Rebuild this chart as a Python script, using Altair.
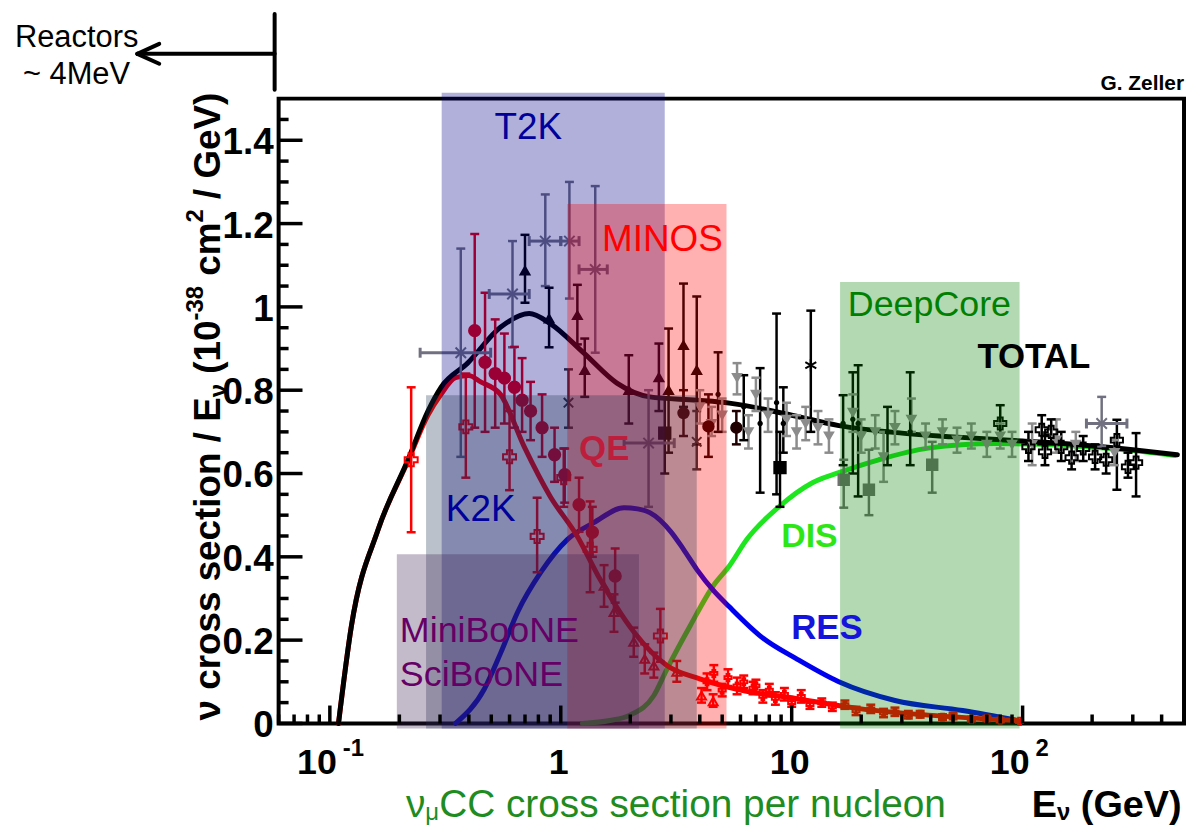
import altair as alt
import pandas as pd

# ---------------------------------------------------------------- data
# model curves (E in GeV, cross section / E in 1e-38 cm^2/GeV)
total_E = [0.109, 0.124, 0.162, 0.218, 0.266, 0.303, 0.395, 0.548, 0.73, 0.90, 1.26, 1.75, 2.43,
           3.88, 5.37, 10, 16, 30, 50, 100, 150, 300, 468]
total_y = [0, 0.234, 0.466, 0.633, 0.75, 0.807, 0.865, 0.951, 0.984, 0.96, 0.889, 0.817, 0.784,
           0.776, 0.769, 0.74, 0.715, 0.697, 0.688, 0.678, 0.672, 0.657, 0.645]

qe_E = [0.109, 0.124, 0.162, 0.218, 0.266, 0.303, 0.35, 0.40, 0.45, 0.548, 0.695, 0.90, 1.18, 1.48,
        2.07, 2.88, 4.0, 6.0, 10.4, 20, 39, 95]
qe_y = [0, 0.234, 0.466, 0.63, 0.74, 0.79, 0.83, 0.835, 0.82, 0.79, 0.664, 0.545, 0.449, 0.346,
        0.22, 0.139, 0.107, 0.08, 0.06, 0.035, 0.02, 0.007]

res_E = [0.35, 0.468, 0.55, 0.65, 0.82, 1.07, 1.39, 1.88, 2.15, 2.43, 3.0, 3.4, 3.88, 4.57, 5.37,
         7.5, 10.5, 16, 28, 55, 95]
res_y = [0, 0.084, 0.17, 0.267, 0.363, 0.442, 0.482, 0.518, 0.515, 0.506, 0.46, 0.418, 0.37, 0.32,
         0.28, 0.205, 0.155, 0.10, 0.055, 0.031, 0.007]

dis_E = [1.24, 1.63, 1.99, 2.53, 2.88, 3.63, 4.57, 5.37, 6.4, 8.8, 12.3, 16, 23.8, 39, 76, 147, 300, 455]
dis_y = [0, 0.007, 0.02, 0.067, 0.13, 0.234, 0.33, 0.378, 0.442, 0.52, 0.578, 0.602, 0.633, 0.661,
         0.672, 0.668, 0.655, 0.643]

# measurements: (E, value, low end, high end)
grey_tri = [(4.0, 0.76, 0.72, 0.80), (4.5, 0.72, 0.69, 0.76), (5.0, 0.74, 0.70, 0.78),
            (5.8, 0.83, 0.79, 0.865), (6.5, 0.70, 0.66, 0.74), (7.0, 0.79, 0.75, 0.83),
            (7.9, 0.74, 0.70, 0.78), (9.5, 0.73, 0.69, 0.77), (10.5, 0.70, 0.66, 0.74),
            (11.5, 0.72, 0.68, 0.76), (13, 0.71, 0.67, 0.75), (14.5, 0.69, 0.65, 0.73),
            (18.4, 0.747, 0.70, 0.79), (20, 0.69, 0.65, 0.73), (23, 0.70, 0.66, 0.74),
            (25, 0.64, 0.58, 0.70), (28, 0.71, 0.67, 0.75), (33, 0.73, 0.70, 0.78),
            (38, 0.69, 0.66, 0.72), (45, 0.70, 0.67, 0.73), (52, 0.68, 0.65, 0.71),
            (60, 0.69, 0.66, 0.72), (70, 0.67, 0.64, 0.70), (80, 0.69, 0.66, 0.72),
            (90, 0.67, 0.64, 0.70), (110, 0.67, 0.62, 0.72), (140, 0.68, 0.65, 0.73),
            (170, 0.67, 0.63, 0.70), (250, 0.65, 0.62, 0.68)]
grey_sq = [(16.8, 0.585, 0.518, 0.633), (21.6, 0.561, 0.50, 0.657), (40.6, 0.621, 0.554, 0.676)]
# (E, value, low, high, E low, E high)
grey_x = [(0.369, 0.89, 0.64, 1.14, 0.246, 0.497), (0.618, 1.031, 0.903, 1.158, 0.49, 0.73),
          (0.857, 1.158, 1.05, 1.27, 0.73, 1.0), (1.09, 1.158, 1.02, 1.30, 1.0, 1.2),
          (1.41, 1.09, 0.89, 1.29, 1.2, 1.59), (2.40, 0.673, 0.52, 0.80, 1.88, 3.1),
          (220, 0.72, 0.665, 0.784, 189, 283)]
red_cross = [(0.225, 0.633, 0.459, 0.807), (0.388, 0.712, 0.59, 0.84), (0.60, 0.64, 0.56, 0.75),
             (0.79, 0.449, 0.363, 0.542), (1.03, 0.59, 0.52, 0.66), (1.34, 0.418, 0.315, 0.533),
             (2.7, 0.21, 0.148, 0.275)]
red_circle = [(0.424, 0.943, 0.71, 1.175), (0.47, 0.867, 0.70, 1.034), (0.52, 0.84, 0.71, 0.97),
              (0.57, 0.829, 0.72, 0.936), (0.63, 0.807, 0.71, 0.904), (0.68, 0.776, 0.70, 0.877),
              (0.74, 0.75, 0.68, 0.82), (0.83, 0.71, 0.64, 0.79), (0.94, 0.645, 0.58, 0.71),
              (1.04, 0.597, 0.53, 0.66), (1.2, 0.525, 0.46, 0.59), (1.37, 0.459, 0.40, 0.52),
              (1.72, 0.354, 0.29, 0.42)]
red_tri = [(1.54, 0.33, 0.28, 0.38), (1.70, 0.267, 0.22, 0.31), (2.07, 0.196, 0.16, 0.23),
           (2.31, 0.155, 0.12, 0.19), (2.53, 0.139, 0.11, 0.17), (3.18, 0.124, 0.10, 0.15),
           (4.07, 0.067, 0.05, 0.085), (4.57, 0.053, 0.04, 0.07)]
red_small = [(4.3, 0.10, 0.08, 0.12), (4.6, 0.12, 0.10, 0.14), (5.0, 0.08, 0.065, 0.095),
             (5.3, 0.11, 0.09, 0.13), (5.8, 0.09, 0.07, 0.11), (6.2, 0.10, 0.085, 0.115),
             (6.8, 0.085, 0.07, 0.10), (7.0, 0.09, 0.075, 0.105), (7.5, 0.065, 0.05, 0.08),
             (8.0, 0.08, 0.065, 0.095), (8.5, 0.06, 0.045, 0.075), (9.3, 0.07, 0.055, 0.085),
             (10, 0.05, 0.04, 0.06), (11, 0.065, 0.05, 0.08), (12, 0.045, 0.035, 0.055),
             (13.5, 0.05, 0.04, 0.06), (15, 0.04, 0.03, 0.05), (17, 0.045, 0.035, 0.055),
             (19, 0.03, 0.02, 0.04), (22, 0.035, 0.025, 0.045), (25, 0.025, 0.015, 0.035),
             (28, 0.028, 0.018, 0.038), (32, 0.02, 0.012, 0.03), (36, 0.022, 0.014, 0.03),
             (45, 0.015, 0.008, 0.022), (50, 0.018, 0.01, 0.026), (60, 0.01, 0.005, 0.016),
             (70, 0.012, 0.006, 0.018), (80, 0.008, 0.003, 0.013), (97, 0.005, 0.002, 0.008)]
black_tri = [(0.70, 1.087, 1.01, 1.173), (0.89, 0.972, 0.903, 1.046), (1.18, 0.98, 0.91, 1.053),
             (1.27, 0.848, 0.784, 0.924), (1.97, 0.80, 0.72, 0.884), (2.66, 0.831, 0.75, 0.912),
             (2.93, 0.80, 0.65, 0.948), (3.40, 0.908, 0.76, 1.056), (3.88, 0.848, 0.67, 1.025)]
dark_x = [(1.08, 0.77, 0.71, 0.85), (3.88, 0.676, 0.61, 0.75)]
black_dot = [(3.4, 0.745, 0.69, 0.80), (4.36, 0.713, 0.64, 0.79), (5.76, 0.71, 0.67, 0.75)]
black_sq = [(2.82, 0.697, 0.60, 0.78), (8.9, 0.614, 0.52, 0.70)]
black_bar = [(4.8, 0.79, 0.70, 0.891), (6.2, 0.76, 0.68, 0.836), (7.3, 0.72, 0.554, 0.853),
             (8.6, 0.77, 0.55, 0.984), (9.2, 0.72, 0.65, 0.807), (16.7, 0.72, 0.62, 0.788),
             (18.4, 0.73, 0.60, 0.843), (19.4, 0.72, 0.545, 0.86), (26, 0.70, 0.62, 0.76),
             (32.6, 0.70, 0.62, 0.843)]
black_star = [(12.1, 0.86, 0.70, 0.991)]
black_open = [(80, 0.72, 0.68, 0.764), (106, 0.664, 0.63, 0.70), (121, 0.705, 0.67, 0.74),
              (125, 0.652, 0.62, 0.69), (133, 0.70, 0.67, 0.73), (147, 0.664, 0.63, 0.70),
              (163, 0.638, 0.61, 0.67), (183, 0.66, 0.63, 0.69), (206, 0.64, 0.61, 0.67),
              (230, 0.633, 0.60, 0.66), (256, 0.68, 0.561, 0.729), (286, 0.616, 0.59, 0.65),
              (310, 0.626, 0.545, 0.697)]

# experiment energy windows: name, E from, E to, top value
exp_names = ["T2K", "MINOS", "K2K", "MiniBooNE/SciBooNE", "DeepCore"]
exp_Elo = [0.305, 1.067, 0.261, 0.195, 16.2]
exp_Ehi = [2.82, 5.22, 3.88, 2.18, 97]
exp_top = [1.514, 1.247, 0.788, 0.406, 1.06]

y_tick_labels = [0, 0.2, 0.4, 0.6, 0.8, 1, 1.2, 1.4]
x_decades = [0.1, 1, 10, 100]

# ---------------------------------------------------------------- styling
FONT = "Liberation Sans"
W, H = 910, 628
xs = alt.Scale(type="log", domain=[0.06, 500], nice=False)
ys = alt.Scale(domain=[0, 1.5], nice=False, zero=False)


def XE(f="E:Q"):
    return alt.X(f, scale=xs, axis=None)


def YV(f="y:Q"):
    return alt.Y(f, scale=ys, axis=None)


PX = lambda f: alt.X(f, scale=None, axis=None)
PY = lambda f: alt.Y(f, scale=None, axis=None)

layers = []


def curve(E, Y, color, width):
    df = pd.DataFrame({"E": E, "y": Y})
    return alt.Chart(df).mark_line(color=color, strokeWidth=width, interpolate="monotone",
                                   strokeCap="round", strokeJoin="round").encode(x=XE(), y=YV())


layers += [curve(dis_E, dis_y, "#1EE61E", 5), curve(res_E, res_y, "#0000F0", 5),
           curve(qe_E, qe_y, "#FF0000", 5), curve(total_E, total_y, "#000000", 5)]

XSHAPE = "M-1,-1L1,1M-1,1L1,-1"
STAR = "M0,-1L0,1M-0.87,-0.5L0.87,0.5M-0.87,0.5L0.87,-0.5"
styles = [  # (points, stroke colour, fill, shape, size)
    (grey_tri, "#8C8C8C", "#8C8C8C", "triangle-down", 70),
    (grey_sq, "#707070", "#707070", "square", 110),
    ([p[:4] for p in grey_x], "#707080", "transparent", XSHAPE, 110),
    (red_small, "#FF0000", "transparent", "cross", 50),
    (red_tri, "#FF0000", "transparent", "triangle-up", 80),
    (red_cross, "#FF0000", "transparent", "cross", 170),
    (red_circle, "#E00010", "#E00010", "circle", 130),
    (black_bar, "#000000", "#000000", "circle", 12),
    (black_tri, "#000000", "#000000", "triangle-up", 80),
    (dark_x, "#303030", "transparent", XSHAPE, 90),
    (black_dot, "#200000", "#200000", "circle", 110),
    (black_sq, "#000000", "#000000", "square", 130),
    (black_star, "#000000", "transparent", STAR, 160),
    (black_open, "#000000", "transparent", "cross", 150),
]
rows = []
for pts, col, fil, shp, sz in styles:
    for p in pts:
        rows.append(dict(E=p[0], y=p[1], lo=p[2], hi=p[3], col=col, fillc=fil, shape=shp, sz=sz))
pts_df = pd.DataFrame(rows)
colc = alt.Color("col:N", scale=None)
base = alt.Chart(pts_df)
layers += [
    base.mark_rule(strokeWidth=2.5).encode(x=XE(), y=YV("lo:Q"), y2="hi:Q", color=colc),
    base.mark_tick(orient="horizontal", size=9, thickness=2.5, opacity=1).encode(x=XE(), y=YV("lo:Q"), color=colc),
    base.mark_tick(orient="horizontal", size=9, thickness=2.5, opacity=1).encode(x=XE(), y=YV("hi:Q"), color=colc),
]
hb = pd.DataFrame([dict(E=p[0], y=p[1], xlo=p[4], xhi=p[5]) for p in grey_x])
hbase = alt.Chart(hb)
layers += [
    hbase.mark_rule(strokeWidth=3, color="#707080").encode(x=XE("xlo:Q"), x2="xhi:Q", y=YV()),
    hbase.mark_tick(orient="vertical", size=10, thickness=3, color="#707080", opacity=1).encode(x=XE("xlo:Q"), y=YV()),
    hbase.mark_tick(orient="vertical", size=10, thickness=3, color="#707080", opacity=1).encode(x=XE("xhi:Q"), y=YV()),
]
layers.append(base.mark_point(filled=True, strokeWidth=2, opacity=1).encode(
    x=XE(), y=YV(), shape=alt.Shape("shape:N", scale=None), fill=alt.Fill("fillc:N", scale=None),
    stroke=alt.Stroke("col:N", scale=None), size=alt.Size("sz:Q", scale=None)))

# experiment boxes (drawn over the data)
box_fill = {"T2K": "#000086", "MINOS": "#FF0000", "K2K": "#1E3250",
            "MiniBooNE/SciBooNE": "#3C1E50", "DeepCore": "#008000"}
box_alpha = {"T2K": 0.31, "MINOS": 0.31, "K2K": 0.3, "MiniBooNE/SciBooNE": 0.3, "DeepCore": 0.3}
box_bottom = -0.012
bx = pd.DataFrame({"n": exp_names, "x1": exp_Elo, "x2": exp_Ehi, "y2": exp_top,
                   "y1": [box_bottom] * len(exp_names),
                   "c": [box_fill[n] for n in exp_names], "o": [box_alpha[n] for n in exp_names]})
layers.append(alt.Chart(bx).mark_rect(clip=False).encode(
    x=XE("x1:Q"), x2="x2:Q", y=YV("y1:Q"), y2="y2:Q",
    color=alt.Color("c:N", scale=None), opacity=alt.Opacity("o:Q", scale=None)))

# ticks drawn inside the frame
ymaj = pd.DataFrame({"v": y_tick_labels})
ymin = pd.DataFrame({"v": [round(i * 0.05, 2) for i in range(1, 30) if i % 4 != 0]})
xmaj = pd.DataFrame({"v": x_decades})
xmin_vals = [0.06, 0.07, 0.08, 0.09] + [d * k for d in [0.1, 1, 10] for k in range(2, 10)] + [200, 300, 400, 500]
xmin = pd.DataFrame({"v": xmin_vals})
layers += [
    alt.Chart(ymaj).mark_rule(strokeWidth=3.5, color="black").encode(y=YV("v:Q"), x=alt.value(0), x2=alt.value(24)),
    alt.Chart(ymin).mark_rule(strokeWidth=3.5, color="black").encode(y=YV("v:Q"), x=alt.value(0), x2=alt.value(10)),
    alt.Chart(xmaj).mark_rule(strokeWidth=3.5, color="black").encode(x=XE("v:Q"), y=alt.value(H), y2=alt.value(H - 18)),
    alt.Chart(xmin).mark_rule(strokeWidth=3.5, color="black").encode(x=XE("v:Q"), y=alt.value(H), y2=alt.value(H - 9)),
]

# tick labels
ylab = pd.DataFrame({"y": y_tick_labels, "t": [f"{v:g}" for v in y_tick_labels]})
layers.append(alt.Chart(ylab).mark_text(font=FONT, fontWeight="bold", fontSize=37, align="right",
                                        baseline="middle", dy=3, color="black").encode(
    y=YV(), x=alt.value(-5), text="t:N"))
XL_BASE = 679
xl_mid = pd.DataFrame({"E": [1, 10], "t": ["1", "10"]})
xl_pow = pd.DataFrame({"E": [0.1, 100], "t": ["10", "10"]})
xl_exp = pd.DataFrame({"E": [0.1, 100], "t": ["-1", "2"]})
layers += [
    alt.Chart(xl_mid).mark_text(font=FONT, fontWeight="bold", fontSize=36, align="center",
                                baseline="alphabetic", color="black", dx=-2).encode(x=XE(), y=alt.value(XL_BASE), text="t:N"),
    alt.Chart(xl_pow).mark_text(font=FONT, fontWeight="bold", fontSize=36, align="right",
                                baseline="alphabetic", color="black", dx=7).encode(x=XE(), y=alt.value(XL_BASE), text="t:N"),
    alt.Chart(xl_exp).mark_text(font=FONT, fontWeight="bold", fontSize=24, align="left",
                                baseline="alphabetic", color="black", dx=13).encode(x=XE(), y=alt.value(XL_BASE - 18), text="t:N"),
]

# labels inside the frame (data coordinates)
lab_norm = pd.DataFrame([
    dict(E=0.517, y=1.402, t="T2K", c="#00009A", s=37),
    dict(E=1.51, y=1.135, t="MINOS", c="#FF0000", s=37),
    dict(E=17.5, y=0.979, t="DeepCore", c="#008000", s=36),
    dict(E=0.318, y=0.485, t="K2K", c="#00009A", s=37),
    dict(E=0.201, y=0.196, t="MiniBooNE", c="#660066", s=36),
    dict(E=0.201, y=0.091, t="SciBooNE", c="#660066", s=36),
])
lab_bold = pd.DataFrame([
    dict(E=63.7, y=0.853, t="TOTAL", c="#000000", s=35),
    dict(E=1.20, y=0.633, t="QE", c="#BE1E3C", s=35),
    dict(E=9.01, y=0.423, t="DIS", c="#2EE614", s=34),
    dict(E=9.95, y=0.203, t="RES", c="#1414DC", s=35),
])
for df, wgt in [(lab_norm, "normal"), (lab_bold, "bold")]:
    layers.append(alt.Chart(df).mark_text(font=FONT, fontWeight=wgt, align="left", baseline="alphabetic").encode(
        x=XE(), y=YV(), text="t:N", color=alt.Color("c:N", scale=None), size=alt.Size("s:Q", scale=None)))

# ---------------------------------------------------------------- text outside the frame
AB = {' ': 278, '(': 333, ')': 333, '/': 278, '-': 333, 'E': 667, 'G': 778, 'V': 667,
      'c': 556, 'm': 889, 'e': 556, 'r': 389, 'o': 611, 's': 556, 't': 333, 'i': 278, 'n': 611, 'ν': 556}
AR = {' ': 278, 'C': 722, 'c': 500, 'r': 333, 'o': 556, 's': 500, 'e': 556, 't': 278,
      'i': 222, 'n': 556, 'p': 556, 'u': 556, 'l': 222, 'ν': 500, 'μ': 576}


def width(s, size, table):
    return sum(table.get(ch, 556) for ch in s) / 1000 * size


def pieces(parts, start, table, sign):
    """Lay text pieces one after the other; leading blanks become an offset
    (Vega trims blanks at the ends of a text)."""
    out, pos = [], start
    for t, s, sh in parts:
        body = t.lstrip(" ")
        lead = width(t[:len(t) - len(body)], s, table)
        out.append(dict(pos=pos + sign * lead, t=body, s=s, sh=sh))
        pos += sign * width(t, s, table)
    return out


# y title, rotated, composed of pieces (text, size, shift)
ytitle = [("ν cross section / E", 37, 0), ("ν", 24, 6), (" (10", 37, 0), ("-38", 24, -17),
          (" cm", 37, 0), ("2", 24, -17), (" / GeV)", 37, 0)]
rows = [dict(px=-59 + r["sh"], py=r["pos"], t=r["t"], s=r["s"]) for r in pieces(ytitle, 625, AB, -1)]
layers.append(alt.Chart(pd.DataFrame(rows)).mark_text(font=FONT, fontWeight="bold", angle=270, align="left",
                                                     baseline="alphabetic", color="black").encode(
    x=PX("px:Q"), y=PY("py:Q"), text="t:N", size=alt.Size("s:Q", scale=None)))

# x title pieces (plot-area pixel coordinates)
XT_BASE = 722
norm_rows = [dict(px=r["pos"], py=XT_BASE + r["sh"], t=r["t"], s=r["s"], c="#1E8C1E")
             for r in pieces([("ν", 39, 0), ("μ", 24, 3), ("CC cross section per nucleon", 39, 0)], 128, AR, 1)]
bold_rows = [dict(px=r["pos"], py=XT_BASE + r["sh"], t=r["t"], s=r["s"], c="#000000")
             for r in pieces([("E", 38, 0), ("ν", 24, 3), (" (GeV)", 38, 0)], 757, AB, 1)]
norm_rows += [dict(px=-265, py=-52, t="Reactors", s=31, c="#000000"),
              dict(px=-257, py=-15, t="~ 4MeV", s=31, c="#000000")]
for rr, wgt in [(norm_rows, "normal"), (bold_rows, "bold")]:
    layers.append(alt.Chart(pd.DataFrame(rr)).mark_text(font=FONT, fontWeight=wgt, align="left",
                                                       baseline="alphabetic").encode(
        x=PX("px:Q"), y=PY("py:Q"), text="t:N", size=alt.Size("s:Q", scale=None),
        color=alt.Color("c:N", scale=None)))
layers.append(alt.Chart(pd.DataFrame([dict(px=W, py=-9, t="G. Zeller")])).mark_text(
    font=FONT, fontWeight="bold", fontSize=21, align="right", baseline="alphabetic", color="black").encode(
    x=PX("px:Q"), y=PY("py:Q"), text="t:N"))

# reactor arrow and marker bar
arrow = pd.DataFrame([dict(x1=-4, x2=-4, y1=-85, y2=-9), dict(x1=-142, x2=-4, y1=-45, y2=-45),
                      dict(x1=-142, x2=-120, y1=-45, y2=-55), dict(x1=-142, x2=-120, y1=-45, y2=-35)])
layers.append(alt.Chart(arrow).mark_rule(strokeWidth=4, color="black", strokeCap="round").encode(
    x=PX("x1:Q"), x2="x2:Q", y=PY("y1:Q"), y2="y2:Q"))

chart = alt.layer(*layers).properties(
    width=W, height=H, autosize=alt.AutoSizeParams(type="none"),
    padding={"left": 272, "top": 89, "right": 2, "bottom": 102}, background="white",
).configure_view(stroke="black", strokeWidth=4)

chart.save("out.html", embed_options={"renderer": "svg", "actions": False})
